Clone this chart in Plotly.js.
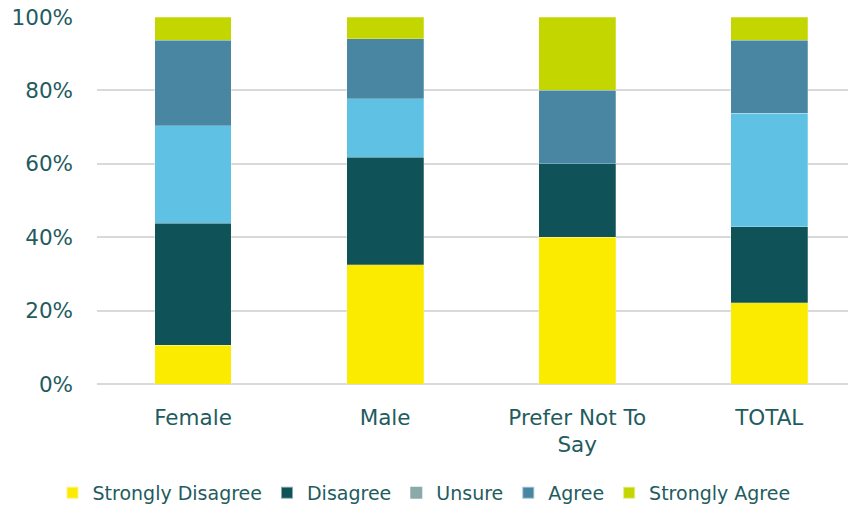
<!DOCTYPE html>
<html>
<head>
<meta charset="utf-8">
<script src="https://cdn.plot.ly/plotly-3.0.1.min.js"></script>
<style>html,body{margin:0;padding:0;background:#fff;}#chart{width:848px;height:512px;}</style>
</head>
<body>
<div id="chart"></div>
<script>
const categories = ["Female", "Male", "Prefer Not To<br>Say", "TOTAL"];
const seriesNames = ["Strongly Disagree", "Disagree", "Unsure", "Agree", "Strongly Agree"];
const stronglyDisagree = [0.106, 0.325, 0.40, 0.222];
const disagree = [0.332, 0.293, 0.20, 0.206];
const unsure = [0.266, 0.159, 0.0, 0.310];
const agree = [0.232, 0.164, 0.20, 0.198];
const stronglyAgree = [0.064, 0.059, 0.20, 0.064];
const yTicks = [0, 0.2, 0.4, 0.6, 0.8, 1.0];
const yTickLabels = ["0%", "20%", "40%", "60%", "80%", "100%"];

const colors = ["#FAEB00", "#0F5258", "#5FC2E5", "#4986A2", "#C4D600"];
const unsureLegendColor = "#8AAAAA";
const textColor = "#1F5C60";
const values = [stronglyDisagree, disagree, unsure, agree, stronglyAgree];

const traces = values.map((v, i) => ({
  type: "bar",
  name: seriesNames[i],
  x: categories,
  y: v,
  width: 0.4,
  marker: {color: colors[i], line: {color: "rgba(255,255,255,0.5)", width: 0.5}},
  showlegend: i !== 2,
  legendrank: i + 1,
  hoverinfo: "skip"
}));
// legend swatch for Unsure (the series is drawn light blue but listed grey)
traces.push({
  type: "bar",
  name: seriesNames[2],
  x: categories,
  y: categories.map(() => null),
  marker: {color: unsureLegendColor},
  showlegend: true,
  legendrank: 3,
  hoverinfo: "skip"
});

const layout = {
  width: 848,
  height: 512,
  barmode: "stack",
  paper_bgcolor: "#fff",
  plot_bgcolor: "#fff",
  margin: {l: 97, r: 0, t: 17, b: 128},
  font: {family: "DejaVu Sans, sans-serif", size: 21, color: textColor},
  xaxis: {
    type: "category",
    range: [-0.5, 3.41],
    showgrid: false,
    zeroline: false,
    showline: false,
    ticks: "",
    ticklabelstandoff: 18,
    tickfont: {size: 21.5, color: textColor},
    fixedrange: true
  },
  yaxis: {
    range: [0, 1],
    tickvals: yTicks,
    ticktext: yTickLabels,
    showgrid: true,
    gridcolor: "#D9D9D9",
    gridwidth: 2,
    zeroline: true,
    zerolinecolor: "#D9D9D9",
    zerolinewidth: 2,
    showline: false,
    ticks: "",
    ticklabelstandoff: 23,
    tickfont: {size: 21.5, color: textColor},
    fixedrange: true
  },
  showlegend: true,
  legend: {
    orientation: "h",
    x: 0.5,
    xanchor: "center",
    xref: "container",
    y: -0.008,
    yref: "container",
    yanchor: "bottom",
    traceorder: "normal",
    font: {size: 19, color: textColor},
    itemwidth: 30,
    itemsizing: "constant"
  }
};

Plotly.newPlot("chart", traces, layout, {displayModeBar: false, staticPlot: true});
</script>
</body>
</html>
